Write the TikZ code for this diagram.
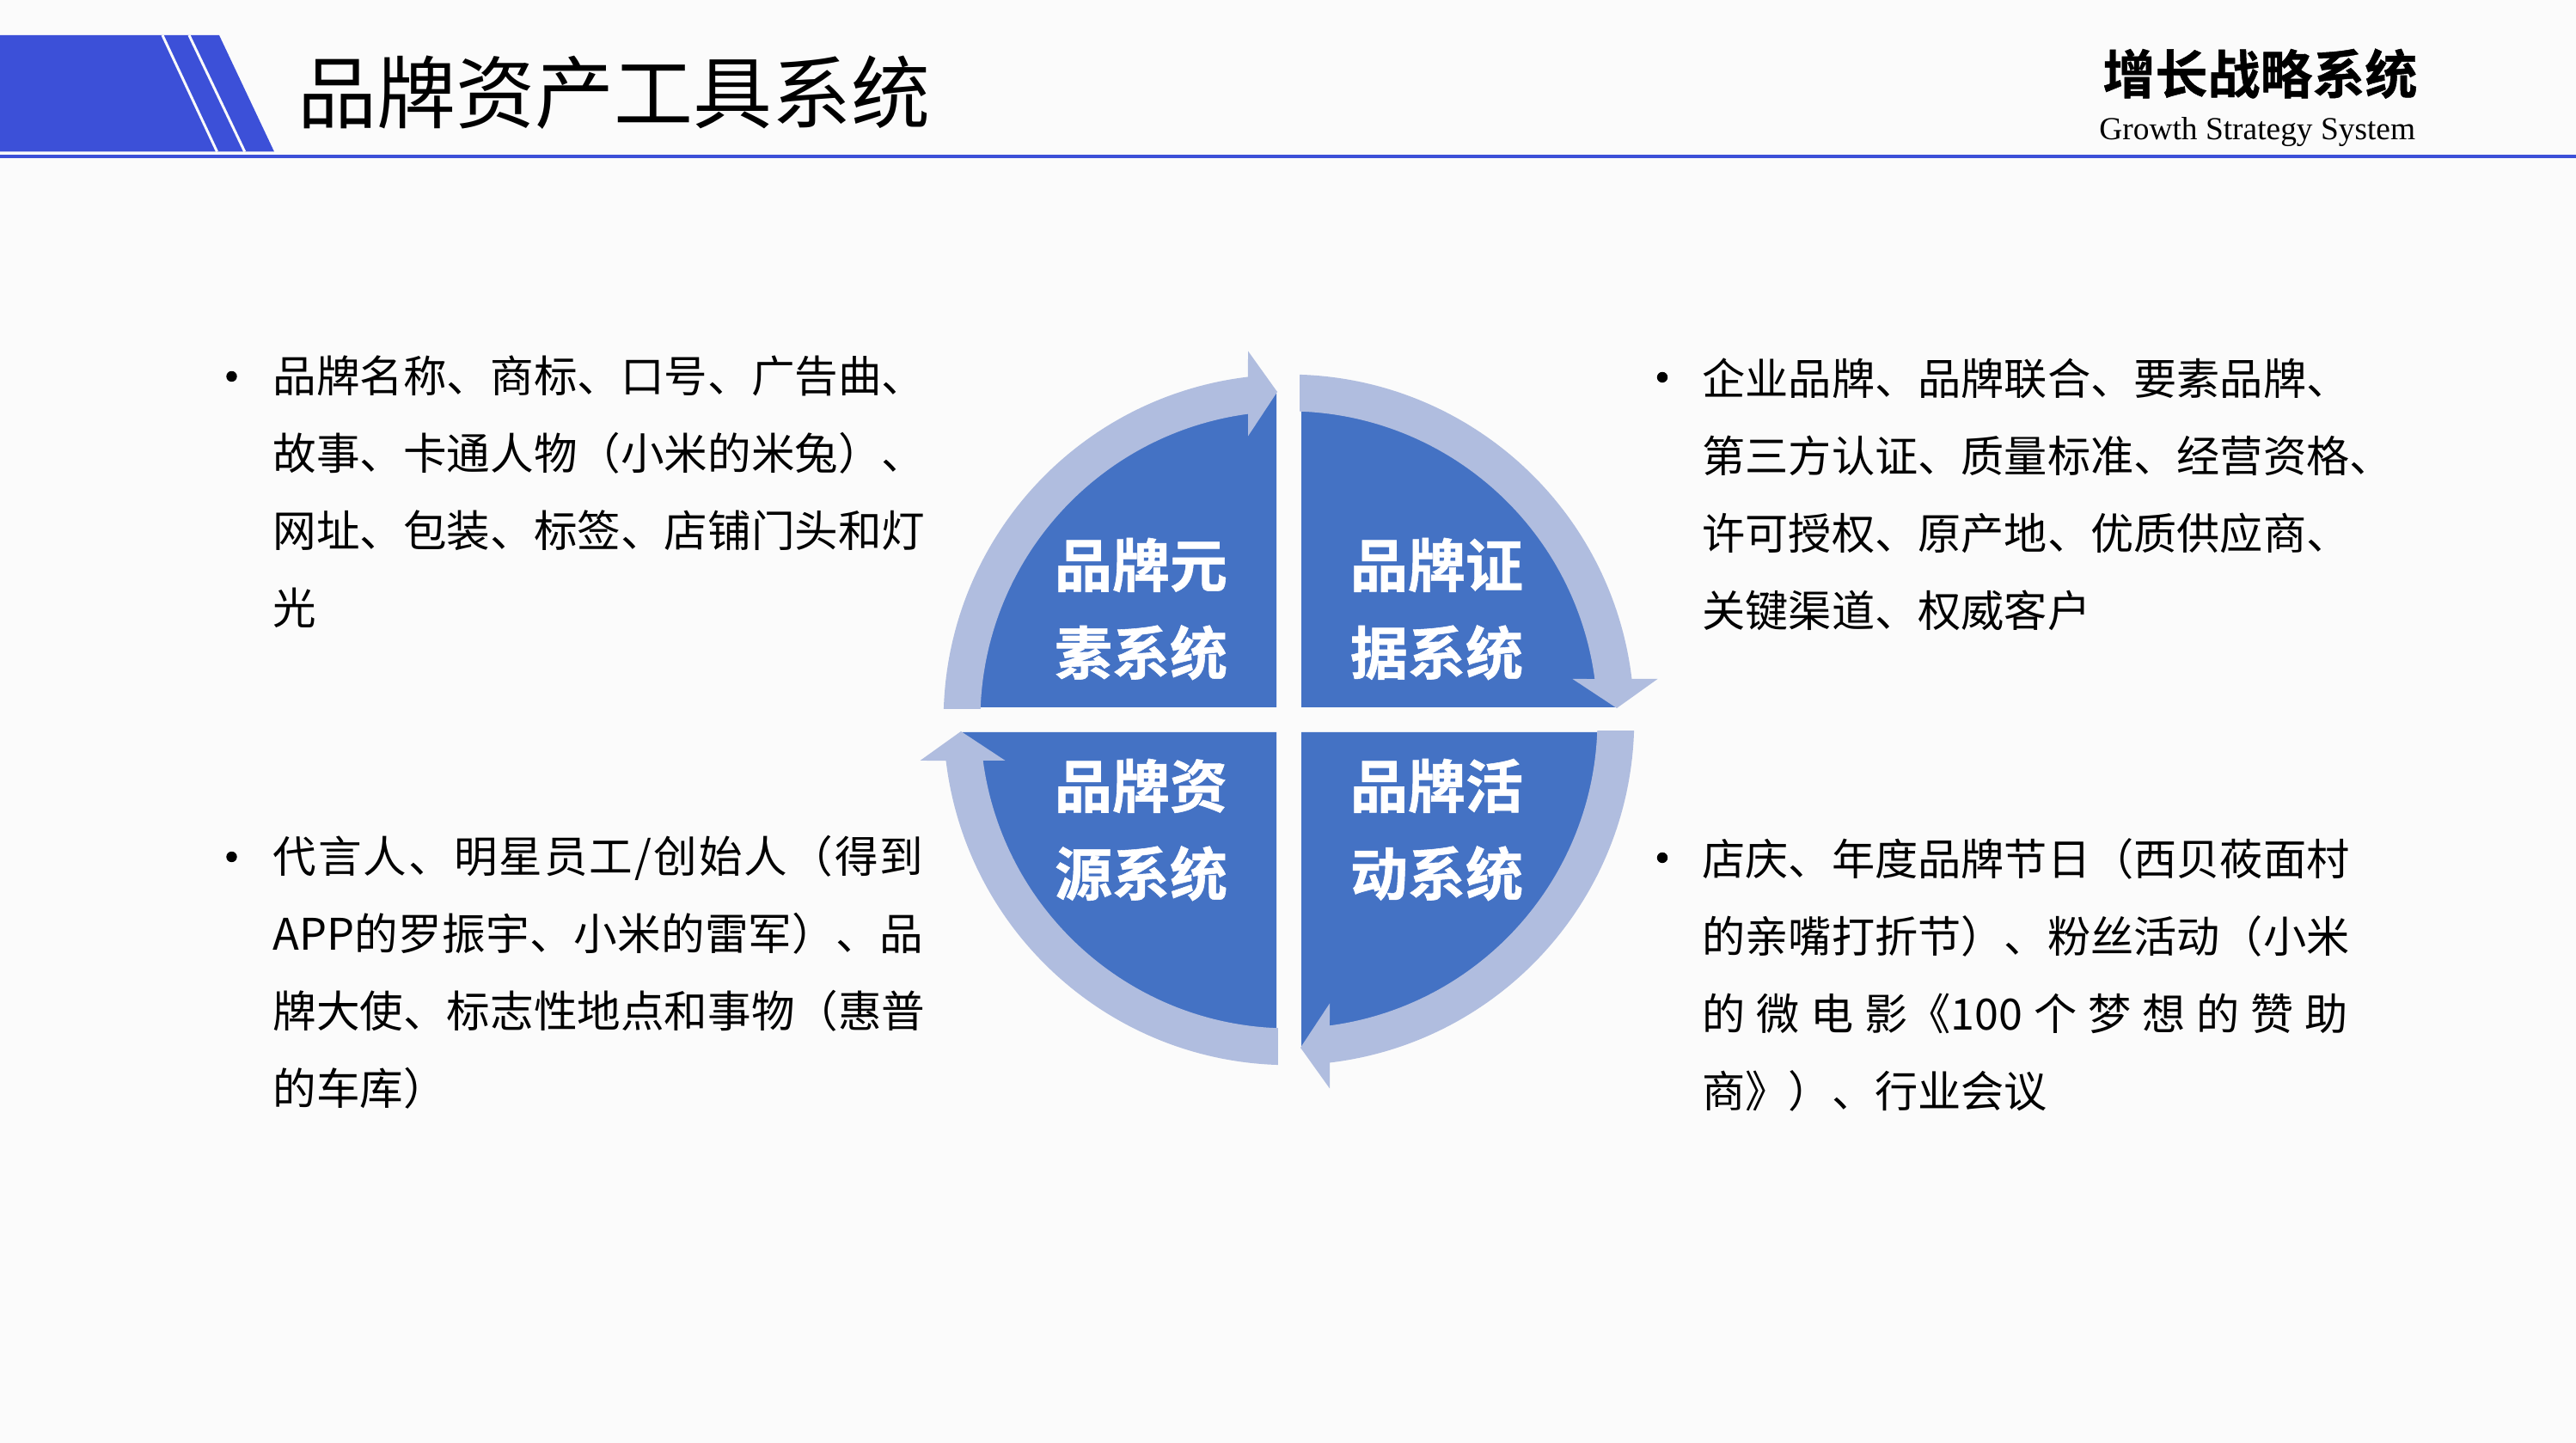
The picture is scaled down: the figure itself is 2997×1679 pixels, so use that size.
\documentclass[tikz,border=0pt]{standalone}
\usepackage{fontspec}
\setmainfont{Noto Sans CJK SC}
\newfontfamily\latinserif{Liberation Serif}
\newfontfamily\cjkbold[FakeBold=0.8]{Noto Sans CJK SC Bold}
\definecolor{pagebg}{HTML}{FBFBFB}
\definecolor{headblue}{HTML}{3C50D8}
\definecolor{pieblue}{HTML}{4472C4}
\definecolor{ringblue}{HTML}{B0BDDF}
\newcommand{\gp}{\hskip 0pt plus 1fil\relax}
\tikzset{
  x=0.5pt,y=0.5pt,
  bodyline/.style={anchor=base west,inner sep=0pt,font=\fontsize{25.3}{25.3}\selectfont,text=black},
  rightline/.style={bodyline,font=\fontsize{25.1}{25.1}\selectfont},
  bulletdot/.style={circle,fill=black,inner sep=0pt,minimum size=6.2pt},
  quadlabel/.style={anchor=center,inner sep=0pt,align=center,text=white,font=\cjkbold\fontsize{33.5}{51}\selectfont},
  quadrant/.style={fill=pieblue,draw=none},
  ringarrow/.style={fill=ringblue,draw=none}
}
\begin{document}
\begin{tikzpicture}
\useasboundingbox (0,0) rectangle (2997,1679);
\fill[pagebg] (0,0) rectangle (2997,1679);
% header
\fill[headblue] (0,1638) -- (255,1638) -- (319,1502.5) -- (0,1502.5) -- cycle;
\draw[pagebg,line width=1.5pt] (189,1638) -- (252.5,1502.5);
\draw[pagebg,line width=1.5pt] (220,1638) -- (284.7,1502.5);
\fill[headblue] (0,1495) rectangle (2997,1499);
\node[anchor=base west,inner sep=0pt,font=\fontsize{46}{46}\selectfont] (title) at (346,1536) {品牌资产工具系统};
\node[anchor=base west,inner sep=0pt,font=\cjkbold\fontsize{30.5}{30.5}\selectfont] (brand) at (2446,1570) {增长战略系统};
\node[anchor=base west,inner sep=0pt,font=\latinserif\fontsize{18.7}{18.7}\selectfont] (brandEn) at (2442,1516) {Growth Strategy System};
% wheel
\begin{scope}[shift={(1499.5,841.5)}]
  \foreach \r in {0,-90,-180,-270}{
    \begin{scope}[rotate=\r]
      \fill[quadrant] (-14.5,14.5) -- (92.19:380) arc[start angle=92.19,end angle=177.81,radius=380] -- cycle;
    \end{scope}
  }
  \foreach \r in {0,-90,-180,-270}{
    \begin{scope}[rotate=\r]
      \fill[ringarrow] (178.2:401.8) arc[start angle=178.2,end angle=96.8,radius=401.8]
        -- (-47.5,429) -- (-13.5,381.5) -- (-47.5,330)
        -- (97.6:359) arc[start angle=97.6,end angle=178,radius=359] -- cycle;
    \end{scope}
  }
  \node[quadlabel] (qa) at (-172,129) {品牌元\\素系统};
  \node[quadlabel] (qb) at (172,129) {品牌证\\据系统};
  \node[quadlabel] (qc) at (-172,-128) {品牌资\\源系统};
  \node[quadlabel] (qd) at (172,-128) {品牌活\\动系统};
\end{scope}
% left top
\node[bulletdot] (b1) at (269.5,1241) {};
\node[bodyline] (l1a) at (317,1222) {品牌名称、商标、口号、广告曲、};
\node[bodyline] (l1b) at (317,1132) {故事、卡通人物（小米的米兔）、};
\node[bodyline] (l1c) at (317,1042) {网址、包装、标签、店铺门头和灯};
\node[bodyline] (l1d) at (317,952) {光};
% left bottom
\node[bulletdot] (b2) at (269.5,682) {};
\node[bodyline] (l2a) at (317,663) {\makebox[378.5pt][s]{代\gp 言\gp 人\gp 、\gp 明\gp 星\gp 员\gp 工\gp /\gp 创\gp 始\gp 人\gp （\gp 得\gp 到}};
\node[bodyline] (l2b) at (317,573) {\makebox[378.5pt][s]{APP\gp 的\gp 罗\gp 振\gp 宇\gp 、\gp 小\gp 米\gp 的\gp 雷\gp 军\gp ）\gp 、\gp 品}};
\node[bodyline] (l2c) at (317,483) {牌大使、标志性地点和事物（惠普};
\node[bodyline] (l2d) at (317,393) {的车库）};
% right top
\node[bulletdot] (b3) at (1934,1240) {};
\node[rightline] (l3a) at (1980,1219.5) {企业品牌、品牌联合、要素品牌、};
\node[rightline] (l3b) at (1980,1129.5) {第三方认证、质量标准、经营资格、};
\node[rightline] (l3c) at (1980,1039.5) {许可授权、原产地、优质供应商、};
\node[rightline] (l3d) at (1980,949.5) {关键渠道、权威客户};
% right bottom
\node[bulletdot] (b4) at (1934,681) {};
\node[rightline] (l4a) at (1980,660) {店庆、年度品牌节日（西贝莜面村};
\node[rightline] (l4b) at (1980,570) {的亲嘴打折节）、粉丝活动（小米};
\node[rightline] (l4c) at (1980,480) {\makebox[375.5pt][s]{的\gp 微\gp 电\gp 影《100\gp 个\gp 梦\gp 想\gp 的\gp 赞\gp 助}};
\node[rightline] (l4d) at (1980,390) {商》）、行业会议};
\end{tikzpicture}
\end{document}
